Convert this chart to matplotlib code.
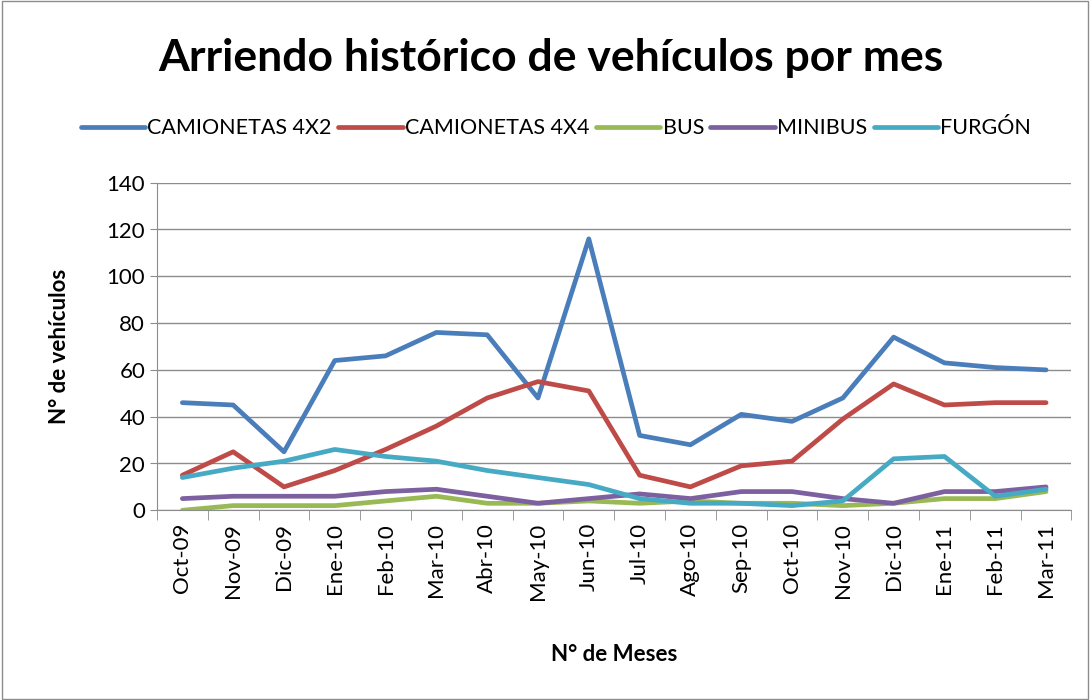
import matplotlib.pyplot as plt
import numpy as np
from matplotlib.patches import Rectangle

months = ["Oct-09", "Nov-09", "Dic-09", "Ene-10", "Feb-10", "Mar-10", "Abr-10", "May-10", "Jun-10",
          "Jul-10", "Ago-10", "Sep-10", "Oct-10", "Nov-10", "Dic-10", "Ene-11", "Feb-11", "Mar-11"]
cam4x2 = [46, 45, 25, 64, 66, 76, 75, 48, 116, 32, 28, 41, 38, 48, 74, 63, 61, 60]
cam4x4 = [15, 25, 10, 17, 26, 36, 48, 55, 51, 15, 10, 19, 21, 39, 54, 45, 46, 46]
bus = [0, 2, 2, 2, 4, 6, 3, 3, 4, 3, 4, 3, 3, 2, 3, 5, 5, 8]
minibus = [5, 6, 6, 6, 8, 9, 6, 3, 5, 7, 5, 8, 8, 5, 3, 8, 8, 10]
furgon = [14, 18, 21, 26, 23, 21, 17, 14, 11, 5, 3, 3, 2, 4, 22, 23, 6, 9]

names = ["CAMIONETAS 4X2", "CAMIONETAS 4X4", "BUS", "MINIBUS", "FURGÓN"]
colors = ["#4a7ebb", "#be4b48", "#98b954", "#7d60a0", "#46aac5"]

plt.rcParams['font.family'] = ['Lato', 'DejaVu Sans']
fig = plt.figure(figsize=(10.9, 7), dpi=100)
fig.patches.append(Rectangle((0.002, 0.002), 0.996, 0.996, transform=fig.transFigure,
                             fill=False, edgecolor="#8c8c8c", linewidth=1))
ax = fig.add_axes([0.144, 0.271, 0.839, 0.468])

x = np.arange(len(months))
series = [cam4x2, cam4x4, bus, minibus, furgon]
for vals, name, c in zip(series, names, colors):
    ax.plot(x, vals, color=c, linewidth=3.4, label=name, solid_capstyle='round')

ax.set_xlim(-0.5, len(months) - 0.5)
ax.set_ylim(0, 140)
ax.set_yticks(range(0, 141, 20))
ax.tick_params(axis='y', labelsize=16, length=5, color="#8c8c8c")
ax.set_xticks(x)
ax.set_xticklabels(months, rotation=90, fontsize=16)
ax.tick_params(axis='x', length=0, pad=9)
ax.set_xticks(np.arange(-0.5, len(months), 1), minor=True)
ax.tick_params(axis='x', which='minor', length=7, color="#8c8c8c")
ax.grid(axis='y', color="#8c8c8c", linewidth=1)
ax.set_axisbelow(True)
for s in ["top", "right"]:
    ax.spines[s].set_visible(False)
for s in ["left", "bottom"]:
    ax.spines[s].set_color("#8c8c8c")

ax.set_ylabel("N° de vehículos", fontsize=16, fontweight='bold', labelpad=26)
ax.set_xlabel("N° de Meses", fontsize=16, fontweight='bold', labelpad=32)

fig.text(0.505, 0.917, "Arriendo histórico de vehículos por mes", ha='center', va='center',
         fontsize=32, fontweight='bold')
fig.legend(loc='center', bbox_to_anchor=(0.51, 0.817), ncol=5, frameon=False, fontsize=15.5,
           handlelength=3.0, handletextpad=0.1, columnspacing=0.3)

fig.savefig("out.png", dpi=100)
